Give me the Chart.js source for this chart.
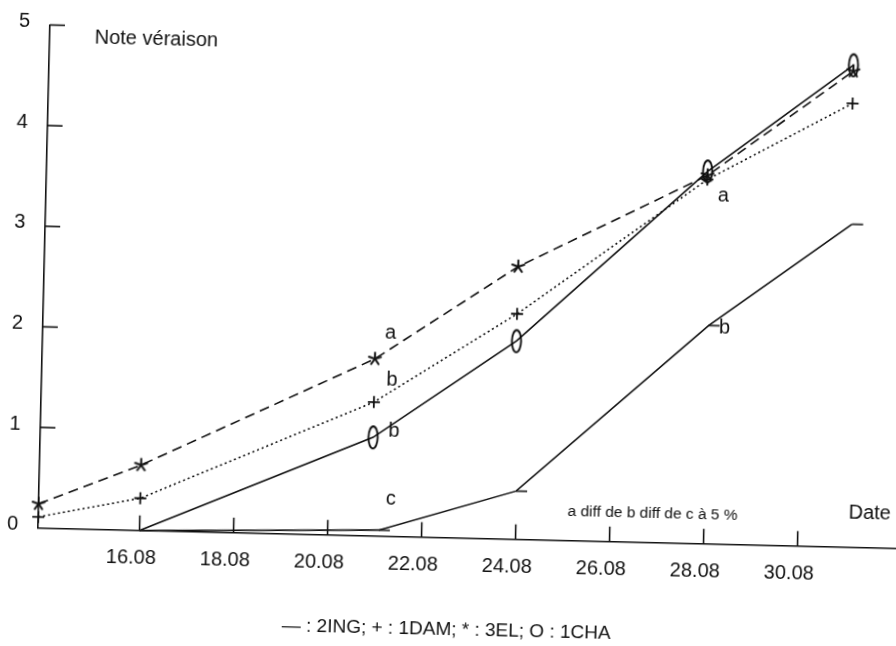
<!DOCTYPE html>
<html>
<head>
<meta charset="utf-8">
<script src="https://cdn.jsdelivr.net/npm/chart.js@4/dist/chart.umd.min.js"></script>
<style>
html,body{margin:0;padding:0;background:#fff;overflow:hidden;width:896px;height:646px;}
#wrap{position:absolute;left:0;top:0;width:910px;height:646px;transform:rotate(1.36deg);transform-origin:448px 323px;}
canvas{display:block;}
</style>
</head>
<body>
<div id="wrap"><canvas id="c" width="910" height="646"></canvas></div>
<script>
// ---- data ----
const dates      = [13.84, 16, 20.92, 23.92, 27.9, 30.95];   // day of August
const val1DAM    = [0.11, 0.32, 1.33, 2.24, 3.62, 4.41];
const val3EL     = [0.24, 0.65, 1.76, 2.71, 3.66, 4.73];
const val1CHA    = [null, 0, 0.98, 1.97, 3.70, 4.79];
const dates2ING  = [16, 21.09, 23.99, 28.0, 31.0];
const val2ING    = [0, 0.06, 0.48, 2.17, 3.21];

const xTickValues = [16, 18, 20, 22, 24, 26, 28, 30];
const xTickLabels = ['16.08', '18.08', '20.08', '22.08', '24.08', '26.08', '28.08', '30.08'];
const yTickValues = [0, 1, 2, 3, 4, 5];
const yTickLabels = ['0', '1', '2', '3', '4', '5'];

const sigLetters = ['a', 'b', 'b', 'c', 'a', 'b'];
const sigX       = [21.24, 21.29, 21.36, 21.33, 28.25, 28.34];
const sigY       = [2.0, 1.54, 1.03, 0.35, 3.45, 2.13];

const yTitle   = 'Note véraison';
const xTitle   = 'Date';
const noteText = 'a diff de b diff de c à 5 %';
const keyText  = '— : 2ING; + : 1DAM; * : 3EL; O : 1CHA';

// ---- styling ----
const INK = '#111';
const FONT = "'Liberation Sans', Arial, Helvetica, sans-serif";

function ellipseImg() {
  const c = document.createElement('canvas'); c.width = 14; c.height = 28;
  const g = c.getContext('2d'); g.strokeStyle = '#000'; g.lineWidth = 1.8;
  g.beginPath(); g.ellipse(7, 14, 4.6, 11, 0, 0, Math.PI * 2); g.stroke();
  return c;
}
function dashImg() {
  const c = document.createElement('canvas'); c.width = 24; c.height = 4;
  const g = c.getContext('2d'); g.strokeStyle = INK; g.lineWidth = 1.6;
  g.beginPath(); g.moveTo(12, 2); g.lineTo(23, 2); g.stroke();
  return c;
}
function asteriskImg() {
  const c = document.createElement('canvas'); c.width = 16; c.height = 16;
  const g = c.getContext('2d'); g.strokeStyle = INK; g.lineWidth = 2; g.lineCap = 'round';
  for (let k = 0; k < 5; k++) {
    const a = -Math.PI / 2 + k * 2 * Math.PI / 5;
    g.beginPath(); g.moveTo(8, 8); g.lineTo(8 + 6.3 * Math.cos(a), 8 + 6.3 * Math.sin(a)); g.stroke();
  }
  return c;
}

const pts = (xs, ys) => xs.map((x, i) => ({ x: x, y: ys[i] })).filter(p => p.y !== null);

const decor = {
  id: 'decor',
  afterDatasetsDraw(chart) {
    const { ctx, chartArea: a } = chart;
    const xs = chart.scales.x, ys = chart.scales.y;
    ctx.save();
    ctx.strokeStyle = INK; ctx.lineWidth = 1.6;
    yTickValues.forEach(v => {
      if (v === 0) return;
      const py = ys.getPixelForValue(v);
      ctx.beginPath(); ctx.moveTo(a.left, py); ctx.lineTo(a.left + 15, py); ctx.stroke();
    });
    xTickValues.forEach(v => {
      const px = xs.getPixelForValue(v);
      ctx.beginPath(); ctx.moveTo(px, a.bottom); ctx.lineTo(px, a.bottom - 15); ctx.stroke();
    });
    ctx.fillStyle = INK;
    ctx.textBaseline = 'middle';
    ctx.textAlign = 'center';
    ctx.font = '20px ' + FONT;
    sigLetters.forEach((t, i) => {
      ctx.fillText(t, xs.getPixelForValue(sigX[i]), ys.getPixelForValue(sigY[i]) - 1.5);
    });
    ctx.textAlign = 'left';
    ctx.font = '20px ' + FONT;
    ctx.fillText(yTitle, a.left + 45, 46.5);
    ctx.fillText(xTitle, 853, 503.5);
    ctx.font = '15.5px ' + FONT;
    ctx.fillText(noteText, 572, 509);
    ctx.font = '19px ' + FONT;
    ctx.fillText(keyText, 289, 630);
    ctx.restore();
  }
};

new Chart(document.getElementById('c'), {
  type: 'line',
  data: {
    datasets: [
      {
        label: '2ING', data: pts(dates2ING, val2ING),
        borderColor: INK, borderWidth: 1.6, tension: 0,
        pointStyle: dashImg(), pointRadius: [0, 4, 4, 4, 4]
      },
      {
        label: '1DAM', data: pts(dates, val1DAM),
        borderColor: INK, borderWidth: 1.6, borderDash: [2, 3], tension: 0,
        pointStyle: 'cross', pointRadius: 6, pointBorderWidth: 1.8,
        pointBorderColor: INK, pointBackgroundColor: INK
      },
      {
        label: '3EL', data: pts(dates, val3EL),
        borderColor: INK, borderWidth: 1.6, borderDash: [10, 6], tension: 0,
        pointStyle: asteriskImg(), pointRadius: 6
      },
      {
        label: '1CHA', data: pts(dates, val1CHA),
        borderColor: INK, borderWidth: 1.6, tension: 0,
        pointStyle: ellipseImg(), pointRadius: [0, 6, 6, 6, 6]
      }
    ]
  },
  options: {
    responsive: false,
    animation: false,
    devicePixelRatio: 1,
    clip: false,
    layout: { padding: { top: 34.5, right: 5, left: 0, bottom: 0 } },
    plugins: { legend: { display: false }, tooltip: { enabled: false }, title: { display: false } },
    scales: {
      x: {
        type: 'linear', min: 13.84, max: 13.84 + 862 / 47.16,
        afterBuildTicks: s => { s.ticks = xTickValues.map(v => ({ value: v })); },
        afterFit: s => { s.height = 108.3; },
        ticks: {
          autoSkip: false, maxRotation: 0, minRotation: 0,
          color: INK, font: { family: FONT, size: 20 }, padding: 16, labelOffset: -8,
          callback: (v, i) => xTickLabels[i]
        },
        grid: { drawOnChartArea: false, drawTicks: false },
        border: { display: true, color: INK, width: 1.6 }
      },
      y: {
        type: 'linear', min: 0, max: 5,
        afterBuildTicks: s => { s.ticks = yTickValues.map(v => ({ value: v })); },
        afterFit: s => { s.width = 43; },
        ticks: {
          color: INK, font: { family: FONT, size: 20 }, padding: 20, labelOffset: -3,
          callback: (v, i) => yTickLabels[i]
        },
        grid: { drawOnChartArea: false, drawTicks: false },
        border: { display: true, color: INK, width: 1.6 }
      }
    }
  },
  plugins: [decor]
});
</script>
</body>
</html>
